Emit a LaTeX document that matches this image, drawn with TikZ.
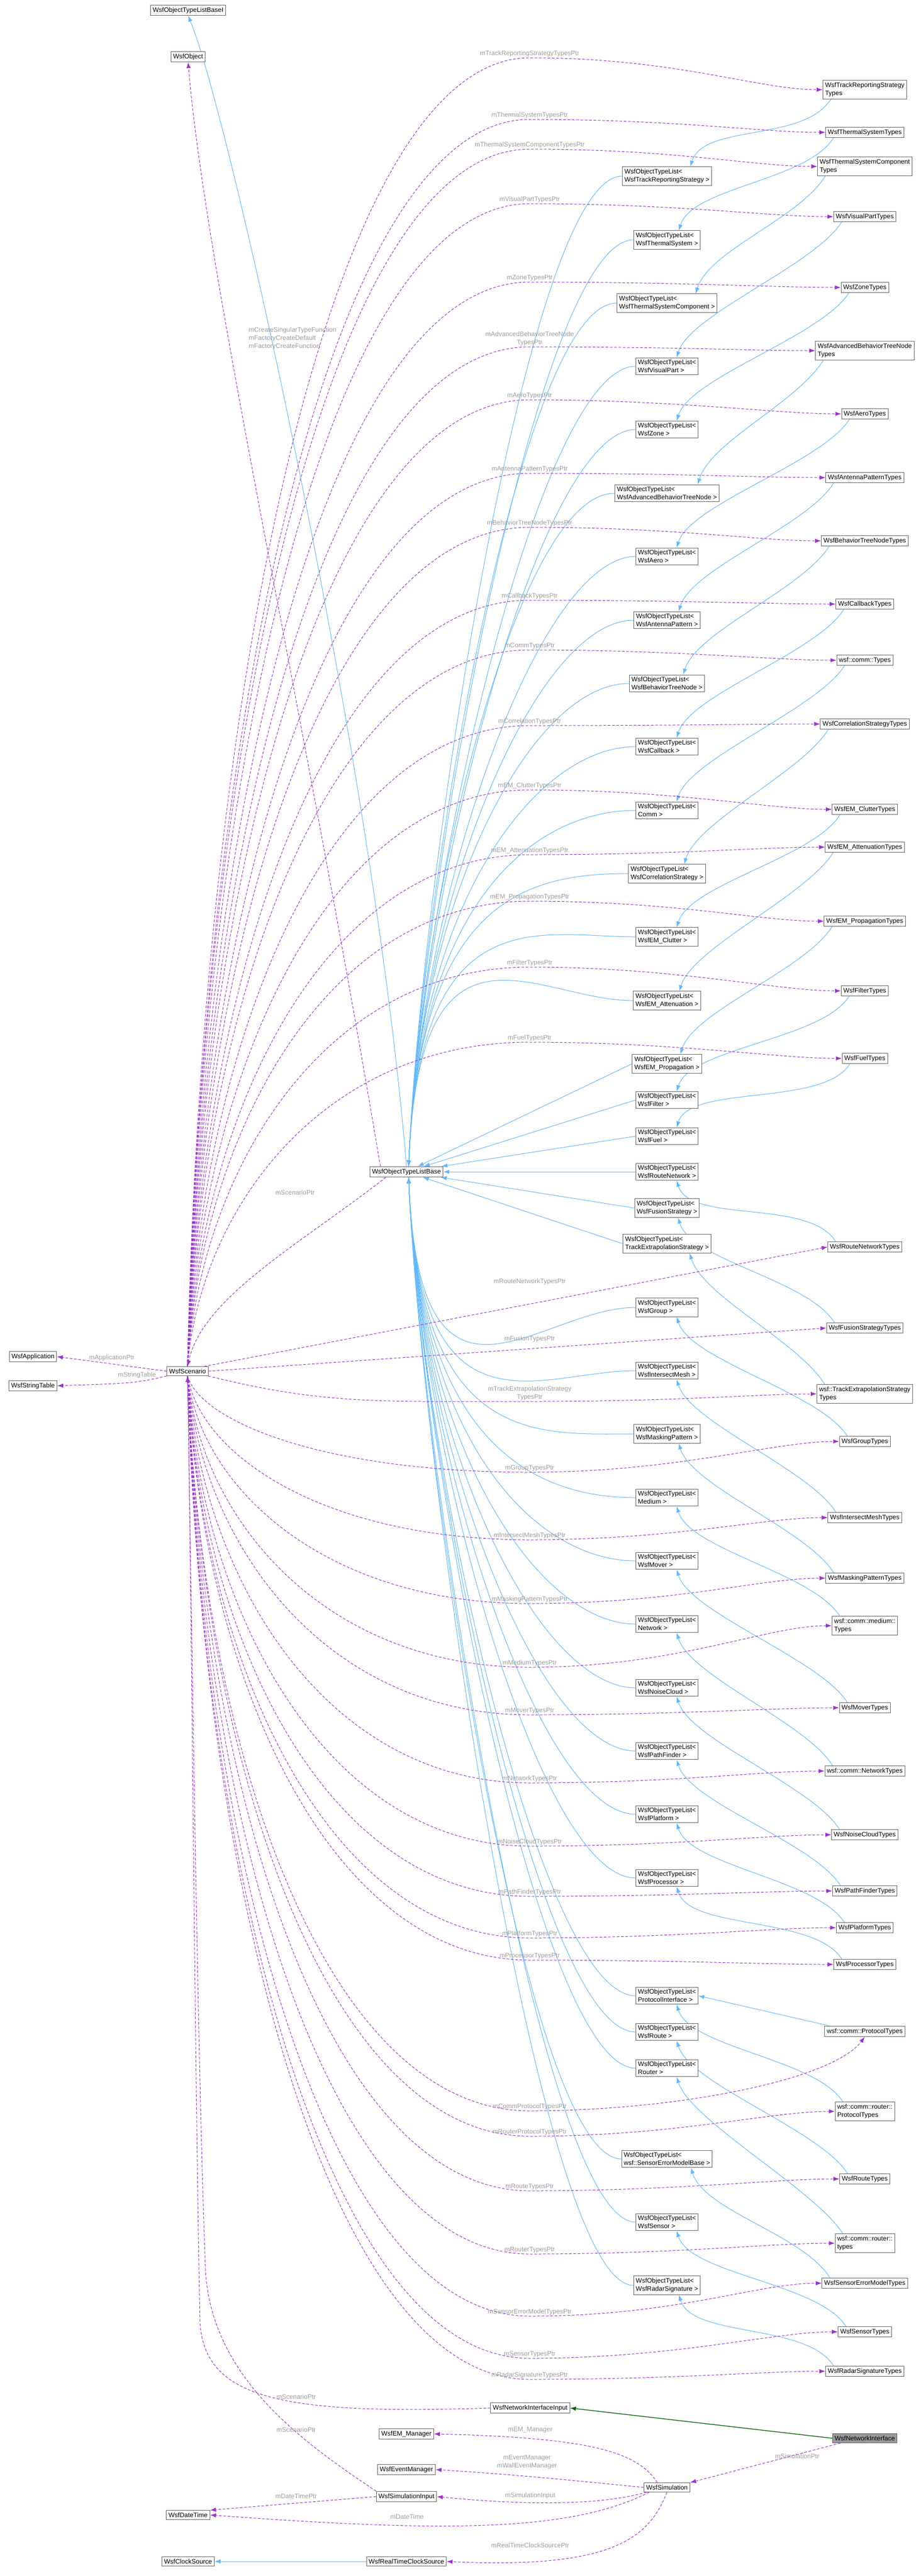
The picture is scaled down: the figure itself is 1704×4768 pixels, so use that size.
\documentclass[tikz,border=0pt]{standalone}
\usepackage{fontspec}
\setmainfont{Liberation Sans}
\usetikzlibrary{arrows.meta,calc}
\pgfdeclarelayer{background}
\pgfsetlayers{background,main}
\definecolor{inhc}{HTML}{63B8FF}
\definecolor{compc}{HTML}{9A32CD}
\definecolor{greenc}{HTML}{006400}
\definecolor{lblc}{HTML}{9C9C9C}
\definecolor{boxc}{HTML}{666666}
\tikzset{
  box/.style={draw=boxc,line width=1pt,fill=white,inner sep=4pt,align=left,font=\fontsize{12}{15}\selectfont},
  tb/.style={box},
  lbl/.style={text=lblc,font=\fontsize{12}{15}\selectfont,align=center,inner sep=2pt},
  inh/.style={draw=inhc,line width=1pt,-{Latex[length=11pt,width=8pt]}},
  comp/.style={draw=compc,line width=1pt,dash pattern=on 5pt off 3pt,-{Latex[length=11pt,width=8pt]}},
  gen/.style={draw=greenc,line width=1.3pt,-{Latex[length=11pt,width=8pt]}}
}
\newcommand\compE[4][north]{\draw[comp] (sc.#1) .. controls (372,{(2538+#4)/2}) and (600,#4) .. (980,#4) node[lbl,anchor=south]{#3} .. controls (1250,#4) and ($(#2.west)+(-120,0)$) .. (#2.west);}
\newcommand\tbU[1]{\draw[inh] (#1.west) .. controls ($(#1.west)+(-180,0)$) and ($(base.north)+(25,-500)$) .. ($(base.north)+(4,0)$);}
\newcommand\tbD[1]{\draw[inh] (#1.west) .. controls ($(#1.west)+(-180,0)$) and ($(base.south)+(25,500)$) .. ($(base.south)+(4,0)$);}
\newcommand\tbS[1]{\draw[inh] (#1.west) -- (base);}
\newcommand\rtU[2]{\draw[inh] ($(#1.south west)+(15,0)$) .. controls +(-50,80) and +(25,-80) .. ($(#2.north east)+(-40,0)$);}
\newcommand\rtD[2]{\draw[inh] ($(#1.north west)+(15,0)$) .. controls +(-50,-80) and +(25,80) .. ($(#2.south east)+(-40,0)$);}
\begin{document}
\begin{tikzpicture}[x=1pt,y=-1pt]
\useasboundingbox (0,0) rectangle (1704,4768);
% left nodes
\node[box] (basei) at (348,19) {WsfObjectTypeListBaseI};
\node[box] (obj) at (348,105) {WsfObject};
\node[box] (base) at (752,2169) {WsfObjectTypeListBase};
\node[box] (sc) at (347,2538) {WsfScenario};
\node[box] (app) at (61,2511) {WsfApplication};
\node[box] (strt) at (61,2565) {WsfStringTable};
% templates
\node[tb] (t1) at (1234,326) {WsfObjectTypeList<\\WsfTrackReportingStrategy >};
\node[tb] (t2) at (1234,444) {WsfObjectTypeList<\\WsfThermalSystem >};
\node[tb] (t3) at (1234,561) {WsfObjectTypeList<\\WsfThermalSystemComponent >};
\node[tb] (t4) at (1234,678) {WsfObjectTypeList<\\WsfVisualPart >};
\node[tb] (t5) at (1234,795) {WsfObjectTypeList<\\WsfZone >};
\node[tb] (t6) at (1234,913) {WsfObjectTypeList<\\WsfAdvancedBehaviorTreeNode >};
\node[tb] (t7) at (1234,1030) {WsfObjectTypeList<\\WsfAero >};
\node[tb] (t8) at (1234,1148) {WsfObjectTypeList<\\WsfAntennaPattern >};
\node[tb] (t9) at (1234,1265) {WsfObjectTypeList<\\WsfBehaviorTreeNode >};
\node[tb] (t10) at (1234,1382) {WsfObjectTypeList<\\WsfCallback >};
\node[tb] (t11) at (1234,1500) {WsfObjectTypeList<\\Comm >};
\node[tb] (t12) at (1234,1617) {WsfObjectTypeList<\\WsfCorrelationStrategy >};
\node[tb] (t13) at (1234,1734) {WsfObjectTypeList<\\WsfEM\_Clutter >};
\node[tb] (t14) at (1234,1852) {WsfObjectTypeList<\\WsfEM\_Attenuation >};
\node[tb] (t15) at (1234,1969) {WsfObjectTypeList<\\WsfEM\_Propagation >};
\node[tb] (t16) at (1234,2036) {WsfObjectTypeList<\\WsfFilter >};
\node[tb] (t17) at (1234,2103) {WsfObjectTypeList<\\WsfFuel >};
\node[tb] (t18) at (1234,2169) {WsfObjectTypeList<\\WsfRouteNetwork >};
\node[tb] (t19) at (1234,2236) {WsfObjectTypeList<\\WsfFusionStrategy >};
\node[tb] (t20) at (1234,2302) {WsfObjectTypeList<\\TrackExtrapolationStrategy >};
\node[tb] (t21) at (1234,2420) {WsfObjectTypeList<\\WsfGroup >};
\node[tb] (t22) at (1234,2537) {WsfObjectTypeList<\\WsfIntersectMesh >};
\node[tb] (t23) at (1234,2654) {WsfObjectTypeList<\\WsfMaskingPattern >};
\node[tb] (t24) at (1234,2772) {WsfObjectTypeList<\\Medium >};
\node[tb] (t25) at (1234,2889) {WsfObjectTypeList<\\WsfMover >};
\node[tb] (t26) at (1234,3006) {WsfObjectTypeList<\\Network >};
\node[tb] (t27) at (1234,3124) {WsfObjectTypeList<\\WsfNoiseCloud >};
\node[tb] (t28) at (1234,3241) {WsfObjectTypeList<\\WsfPathFinder >};
\node[tb] (t29) at (1234,3358) {WsfObjectTypeList<\\WsfPlatform >};
\node[tb] (t30) at (1234,3476) {WsfObjectTypeList<\\WsfProcessor >};
\node[tb] (t31) at (1234,3694) {WsfObjectTypeList<\\ProtocolInterface >};
\node[tb] (t32) at (1234,3761) {WsfObjectTypeList<\\WsfRoute >};
\node[tb] (t33) at (1234,3828) {WsfObjectTypeList<\\Router >};
\node[tb] (t34) at (1234,3996) {WsfObjectTypeList<\\wsf::SensorErrorModelBase >};
\node[tb] (t35) at (1234,4113) {WsfObjectTypeList<\\WsfSensor >};
\node[tb] (t36) at (1234,4230) {WsfObjectTypeList<\\WsfRadarSignature >};
% types
\begin{scope}[every node/.append style={align=center}]
\node[box] (r1) at (1600,166) {WsfTrackReportingStrategy\\Types};
\node[box] (r2) at (1600,245) {WsfThermalSystemTypes};
\node[box] (r3) at (1600,308) {WsfThermalSystemComponent\\Types};
\node[box] (r4) at (1600,401) {WsfVisualPartTypes};
\node[box] (r5) at (1600,532) {WsfZoneTypes};
\node[box] (r6) at (1600,649) {WsfAdvancedBehaviorTreeNode\\Types};
\node[box] (r7) at (1600,766) {WsfAeroTypes};
\node[box] (r8) at (1600,884) {WsfAntennaPatternTypes};
\node[box] (r9) at (1600,1001) {WsfBehaviorTreeNodeTypes};
\node[box] (r10) at (1600,1118) {WsfCallbackTypes};
\node[box] (r11) at (1600,1222) {wsf::comm::Types};
\node[box] (r12) at (1600,1340) {WsfCorrelationStrategyTypes};
\node[box] (r13) at (1600,1498) {WsfEM\_ClutterTypes};
\node[box] (r14) at (1600,1568) {WsfEM\_AttenuationTypes};
\node[box] (r15) at (1600,1705) {WsfEM\_PropagationTypes};
\node[box] (r16) at (1600,1834) {WsfFilterTypes};
\node[box] (r17) at (1600,1959) {WsfFuelTypes};
\node[box] (r18) at (1600,2308) {WsfRouteNetworkTypes};
\node[box] (r19) at (1600,2458) {WsfFusionStrategyTypes};
\node[box] (r20) at (1600,2580) {wsf::TrackExtrapolationStrategy\\Types};
\node[box] (r21) at (1600,2668) {WsfGroupTypes};
\node[box] (r22) at (1600,2809) {WsfIntersectMeshTypes};
\node[box] (r23) at (1600,2921) {WsfMaskingPatternTypes};
\node[box] (r24) at (1600,3009) {wsf::comm::medium::\\Types};
\node[box] (r25) at (1600,3161) {WsfMoverTypes};
\node[box] (r26) at (1600,3278) {wsf::comm::NetworkTypes};
\node[box] (r27) at (1600,3396) {WsfNoiseCloudTypes};
\node[box] (r28) at (1600,3500) {WsfPathFinderTypes};
\node[box] (r29) at (1600,3568) {WsfPlatformTypes};
\node[box] (r30) at (1600,3636) {WsfProcessorTypes};
\node[box] (r31) at (1600,3760) {wsf::comm::ProtocolTypes};
\node[box] (r32) at (1600,3908) {wsf::comm::router::\\ProtocolTypes};
\node[box] (r33) at (1600,4033) {WsfRouteTypes};
\node[box] (r34) at (1600,4152) {wsf::comm::router::\\types};
\node[box] (r35) at (1600,4226) {WsfSensorErrorModelTypes};
\node[box] (r36) at (1600,4316) {WsfSensorTypes};
\node[box] (r37) at (1600,4389) {WsfRadarSignatureTypes};
\end{scope}
% bottom nodes
\node[box] (nii) at (981,4457) {WsfNetworkInterfaceInput};
\node[box] (em) at (752,4505) {WsfEM\_Manager};
\node[box,fill=black!40] (ni) at (1600,4513) {WsfNetworkInterface};
\node[box] (evm) at (752,4571) {WsfEventManager};
\node[box] (sim) at (1234,4604) {WsfSimulation};
\node[box] (simin) at (752,4621) {WsfSimulationInput};
\node[box] (dt) at (348,4655) {WsfDateTime};
\node[box] (clk) at (348,4741) {WsfClockSource};
\node[box] (rtc) at (752,4741) {WsfRealTimeClockSource};

\begin{pgfonlayer}{background}
% base links
\draw[inh] (base.north) .. controls (690,1400) and (420,200) .. (basei.south);
\draw[comp] ($(base.north west)+(20,0)$) .. controls (560,1300) and (380,500) .. (obj.south);
\node[lbl,align=left,anchor=west] (lobj) at (458,626) {mCreateSingularTypeFunction\\mFactoryCreateDefault\\mFactoryCreateFunction};
\draw[comp] ($(base.south west)+(30,0)$) .. controls (560,2300) and (375,2400) .. (sc.north);
\node[lbl] (lsc1) at (546,2207) {mScenarioPtr};
\draw[comp] (sc.west) -- (app.east) node[lbl,midway,above=3pt] {mApplicationPtr};
\draw[comp] (sc.south west) .. controls (250,2560) .. (strt.east) node[lbl,pos=0.4,above=4pt] {mStringTable};
% templates -> base
\foreach \t in {t1,t2,t3,t4,t5,t6,t7,t8,t9,t10,t11,t12,t13,t14} {\tbU{\t}}
\foreach \t in {t15,t16,t17,t18,t19,t20} {\tbS{\t}}
\foreach \t in {t21,t22,t23,t24,t25,t26,t27,t28,t29,t30,t31,t32,t33,t34,t35,t36} {\tbD{\t}}
% types -> templates
\rtU{r1}{t1}\rtU{r2}{t2}\rtU{r3}{t3}\rtU{r4}{t4}\rtU{r5}{t5}\rtU{r6}{t6}\rtU{r7}{t7}
\rtU{r8}{t8}\rtU{r9}{t9}\rtU{r10}{t10}\rtU{r11}{t11}\rtU{r12}{t12}\rtU{r13}{t13}
\rtU{r14}{t14}\rtU{r15}{t15}\rtU{r16}{t16}\rtU{r17}{t17}
\rtD{r18}{t18}\rtD{r19}{t19}\rtD{r20}{t20}\rtD{r21}{t21}\rtD{r22}{t22}\rtD{r23}{t23}
\rtD{r24}{t24}\rtD{r25}{t25}\rtD{r26}{t26}\rtD{r27}{t27}\rtD{r28}{t28}\rtD{r29}{t29}
\rtD{r30}{t30}\rtD{r32}{t31}\rtD{r33}{t32}\rtD{r34}{t33}\rtD{r35}{t34}\rtD{r36}{t35}\rtD{r37}{t36}
\draw[inh] ($(r31.north west)+(10,0)$) -- (t31.east);
% scenario -> types
\compE{r1}{mTrackReportingStrategyTypesPtr}{107}
\compE{r2}{mThermalSystemTypesPtr}{221}
\compE{r3}{mThermalSystemComponentTypesPtr}{276}
\compE{r4}{mVisualPartTypesPtr}{377}
\compE{r5}{mZoneTypesPtr}{522}
\compE{r6}{mAdvancedBehaviorTreeNode\\TypesPtr}{642}
\compE{r7}{mAeroTypesPtr}{740}
\compE{r8}{mAntennaPatternTypesPtr}{876}
\compE{r9}{mBehaviorTreeNodeTypesPtr}{976}
\compE{r10}{mCallbackTypesPtr}{1111}
\compE{r11}{mCommTypesPtr}{1203}
\compE{r12}{mCorrelationTypesPtr}{1343}
\compE{r13}{mEM\_ClutterTypesPtr}{1462}
\compE{r14}{mEM\_AttenuationTypesPtr}{1582}
\compE{r15}{mEM\_PropagationTypesPtr}{1668}
\compE{r16}{mFilterTypesPtr}{1790}
\compE{r17}{mFuelTypesPtr}{1929}
\draw[comp] ($(sc.north east)+(-8,0)$) -- (r18.west) node[lbl] at (980,2372) {mRouteNetworkTypesPtr};
\draw[comp] (sc.east) -- (r19.west) node[lbl] at (980,2478) {mFusionTypesPtr};
\draw[comp] (sc.south east) .. controls (600,2600) and (700,2594) .. (980,2594) node[lbl,anchor=south] {mTrackExtrapolationStrategy\\TypesPtr} .. controls (1250,2594) and ($(r20.west)+(-100,0)$) .. (r20.west);
\compE[south]{r21}{mGroupTypesPtr}{2725}
\compE[south]{r22}{mIntersectMeshTypesPtr}{2850}
\compE[south]{r23}{mMaskingPatternTypesPtr}{2968}
\compE[south]{r24}{mMediumTypesPtr}{3086}
\compE[south]{r25}{mMoverTypesPtr}{3174}
\compE[south]{r26}{mNetworkTypesPtr}{3300}
\compE[south]{r27}{mNoiseCloudTypesPtr}{3417}
\compE[south]{r28}{mPathFinderTypesPtr}{3510}
\compE[south]{r29}{mPlatformTypesPtr}{3587}
\compE[south]{r30}{mProcessorTypesPtr}{3628}
\draw[comp] (sc.south) .. controls (372,3230) and (600,3907) .. (980,3907) node[lbl,anchor=south] {mCommProtocolTypesPtr} .. controls (1250,3907) and ($(r31.south)+(-60,80)$) .. (r31.south);
\compE[south]{r32}{mRouterProtocolTypesPtr}{3954}
\compE[south]{r33}{mRouteTypesPtr}{4055}
\compE[south]{r34}{mRouterTypesPtr}{4172}
\compE[south]{r35}{mSensorErrorModelTypesPtr}{4287}
\compE[south]{r36}{mSensorTypesPtr}{4365}
\compE[south]{r37}{mRadarSignatureTypesPtr}{4404}
% bottom
\draw[comp] (nii.west) .. controls (520,4470) and (380,4440) .. (370,4300) .. controls (360,3800) and (355,3000) .. (sc.south);
\node[lbl] (lsc2) at (548,4436) {mScenarioPtr};
\draw[comp] (simin.north west) .. controls (560,4520) and (390,4400) .. (380,4200) .. controls (365,3800) and (355,3000) .. (sc.south);
\node[lbl] (lsc3) at (548,4497) {mScenarioPtr};
\draw[gen] (ni.west) -- (nii.east);
\draw[comp] ($(ni.south west)+(15,0)$) -- (sim.north east) node[lbl,pos=0.45,above right=2pt] {mSimulationPtr};
\draw[comp] ($(sim.north west)+(25,0)$) .. controls (1180,4540) and (1100,4512) .. (em.east);
\node[lbl] (lem) at (981,4498) {mEM\_Manager};
\draw[comp] (sim.west) .. controls (1050,4590) and (950,4580) .. (evm.east);
\node[lbl] (lev) at (975,4557) {mEventManager\\mWallEventManager};
\draw[comp] ($(sim.south west)+(5,0)$) .. controls (1100,4640) and (950,4635) .. (simin.east);
\node[lbl] (lsi) at (981,4619) {mSimulationInput};
\draw[comp] ($(sim.south west)+(10,0)$) .. controls (1050,4690) and (800,4685) .. (dt.east);
\node[lbl] (ldt) at (753,4658) {mDateTime};
\draw[comp] (simin.west) -- (dt.north east) node[lbl] at (548,4620) {mDateTimePtr};
\draw[comp] (sim.south) .. controls (1200,4700) and (1130,4755) .. (rtc.east);
\node[lbl] (lrt) at (981,4711) {mRealTimeClockSourcePtr};
\draw[inh] (rtc.west) -- (clk.east);
\end{pgfonlayer}
\end{tikzpicture}
\end{document}
